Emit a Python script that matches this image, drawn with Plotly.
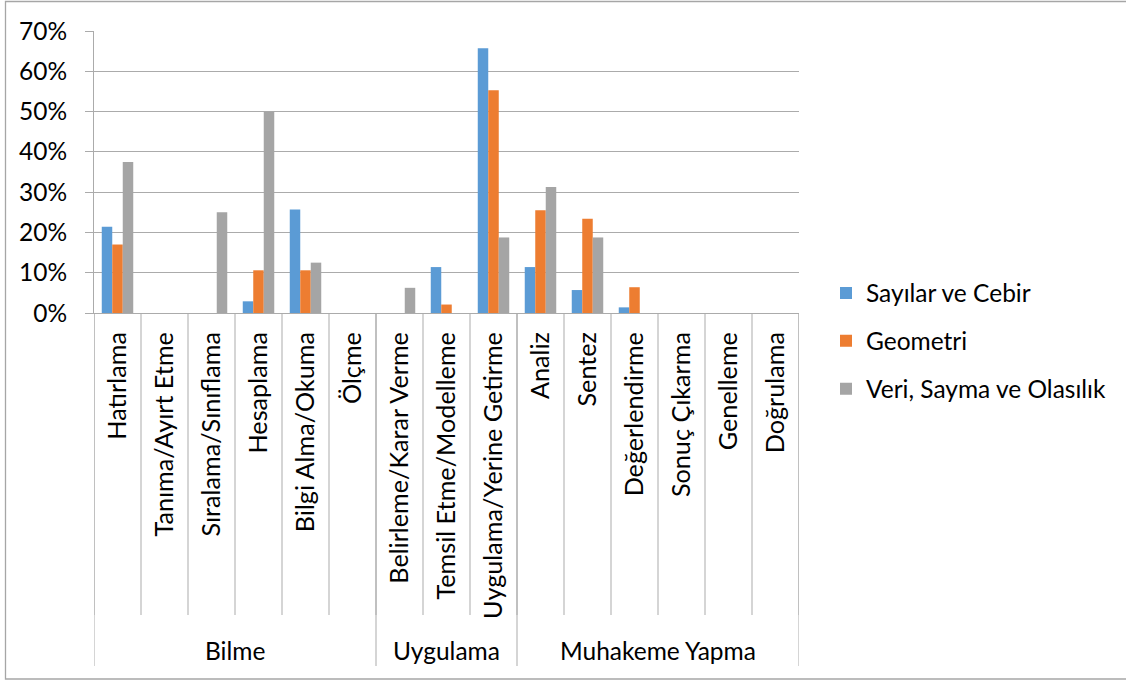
import plotly.graph_objects as go

# Categories (inner level) and their parent groups
categories = [
    "Hatırlama", "Tanıma/Ayırt Etme", "Sıralama/Sınıflama", "Hesaplama",
    "Bilgi Alma/Okuma", "Ölçme", "Belirleme/Karar Verme",
    "Temsil Etme/Modelleme", "Uygulama/Yerine Getirme", "Analiz", "Sentez",
    "Değerlendirme", "Sonuç Çıkarma", "Genelleme", "Doğrulama",
]
groups = ["Bilme", "Uygulama", "Muhakeme Yapma"]
group_sizes = [6, 3, 6]

# Series values (share of items)
sayilar_ve_cebir = [0.214, 0, 0, 0.029, 0.257, 0, 0, 0.114, 0.657, 0.114, 0.057, 0.014, 0, 0, 0]
geometri = [0.170, 0, 0, 0.106, 0.106, 0, 0, 0.021, 0.553, 0.255, 0.234, 0.064, 0, 0, 0]
veri_sayma_olasilik = [0.375, 0, 0.25, 0.50, 0.125, 0, 0.0625, 0, 0.1875, 0.3125, 0.1875, 0, 0, 0, 0]

series_names = ["Sayılar ve Cebir", "Geometri", "Veri, Sayma ve Olasılık"]
series_values = [sayilar_ve_cebir, geometri, veri_sayma_olasilik]
colors = ["#5B9BD5", "#ED7D31", "#A5A5A5"]

y_ticks = [0, 0.1, 0.2, 0.3, 0.4, 0.5, 0.6, 0.7]
y_tick_text = ["0%", "10%", "20%", "30%", "40%", "50%", "60%", "70%"]

FONT = "Lato"
FS = 24.5
FS_CAT = 25.2
GRID = "#ABABAB"

W, H = 1126, 680
L, R, T, B = 94, 327, 31, 367
plot_h = H - T - B


def py(pixel_y):
    """Pixel row -> paper y."""
    return (H - B - pixel_y) / plot_h


fig = go.Figure()
for name, vals, col in zip(series_names, series_values, colors):
    fig.add_trace(go.Bar(
        x=categories, y=vals, name=name, legendgroup=name,
        marker=dict(color=col, line=dict(width=0)),
    ))

shapes = []
n = len(categories)
# short separators between every category
for i in range(n + 1):
    shapes.append(dict(type="line", xref="x", yref="paper",
                       x0=i - 0.5, x1=i - 0.5, y0=0, y1=py(615),
                       line=dict(color=GRID, width=1)))
# long separators between groups
edge = 0
for size in [0] + group_sizes:
    edge += size
    shapes.append(dict(type="line", xref="x", yref="paper",
                       x0=edge - 0.5, x1=edge - 0.5, y0=0, y1=py(666),
                       line=dict(color=GRID, width=1)))

# outer chart border
shapes.append(dict(type="rect", xref="paper", yref="paper",
                   x0=(5.5 - L) / (W - L - R), x1=(1140 - L) / (W - L - R),
                   y0=py(679), y1=py(1.5),
                   line=dict(color="#A6A6A6", width=1.3), fillcolor="rgba(0,0,0,0)"))

annotations = []
start = 0
for g, size in zip(groups, group_sizes):
    annotations.append(dict(
        x=start + (size - 1) / 2, xref="x", y=py(650), yref="paper",
        text=g, showarrow=False, font=dict(family=FONT, size=FS, color="#000"),
        xanchor="center", yanchor="middle",
    ))
    start += size

fig.update_layout(
    width=W, height=H,
    margin=dict(l=L, r=R, t=T, b=B, pad=0),
    paper_bgcolor="white", plot_bgcolor="white",
    barmode="group", bargap=0.33, bargroupgap=0,
    font=dict(family=FONT, size=FS, color="#000"),
    shapes=shapes, annotations=annotations,
    legend=dict(
        x=(826 - L) / (W - L - R), xanchor="left",
        y=py(341), yanchor="middle",
        traceorder="grouped", tracegroupgap=13,
        font=dict(family=FONT, size=FS, color="#000"),
        bgcolor="rgba(0,0,0,0)",
    ),
)
fig.update_xaxes(
    type="category", range=[-0.5, n - 0.5],
    showline=True, linecolor=GRID, linewidth=1,
    showgrid=False, ticks="", tickangle=-90,
    ticklabelstandoff=8,
    tickfont=dict(family=FONT, size=FS_CAT, color="#000"),
)
fig.update_yaxes(
    range=[0, 0.7], tickvals=y_ticks, ticktext=y_tick_text,
    showgrid=True, gridcolor=GRID, gridwidth=1,
    showline=True, linecolor=GRID, linewidth=1,
    ticks="outside", ticklen=8, tickcolor=GRID,
    ticklabelstandoff=13,
    tickfont=dict(family=FONT, size=FS, color="#000"),
    zeroline=False,
)

fig.write_html("out.html")
